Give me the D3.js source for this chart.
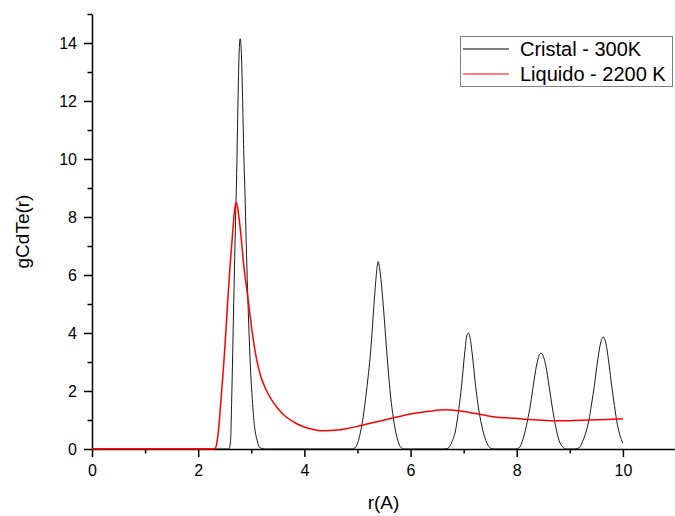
<!DOCTYPE html>
<html>
<head>
<meta charset="utf-8">
<script src="https://cdn.jsdelivr.net/npm/d3@7"></script>
<style>
  body { margin: 0; background: #fff; }
  svg { display: block; font-family: "Liberation Sans", Arial, sans-serif; }
</style>
</head>
<body>
<div id="chart"></div>
<script>
// crystal (300K) g(r)
var crystalR = [0, 2.58, 2.61, 2.63, 2.65, 2.675, 2.70, 2.725, 2.75, 2.77, 2.79,
  2.81, 2.84, 2.86, 2.88, 2.905, 2.93, 2.96, 2.99, 3.02, 3.06, 3.11, 3.16, 3.25,
  4.90, 4.96, 5.02, 5.09, 5.17, 5.25, 5.32, 5.36, 5.39, 5.42, 5.475, 5.55, 5.62, 5.69, 5.76, 5.82, 5.88,
  6.60, 6.70, 6.78, 6.85, 6.91, 6.96, 7.02, 7.06, 7.09, 7.12, 7.16, 7.226, 7.29, 7.36, 7.44, 7.52, 7.58,
  7.98, 8.05, 8.12, 8.205, 8.26, 8.31, 8.37, 8.42, 8.46, 8.50, 8.55, 8.61, 8.66, 8.71, 8.78, 8.86, 8.94,
  9.10, 9.18, 9.26, 9.36, 9.41, 9.46, 9.52, 9.58, 9.63, 9.68, 9.74, 9.79, 9.84, 9.88, 9.94, 10.0];
var crystalG = [0, 0, 0.3, 1.6, 3.3, 5.5, 7.6, 9.5, 12.0, 13.6, 14.15,
  13.8, 11.8, 10.1, 8.9, 7.1, 5.5, 3.9, 2.6, 1.7, 0.8, 0.3, 0.05, 0,
  0, 0.05, 0.3, 0.9, 2.0, 3.4, 5.2, 6.1, 6.46, 6.2, 5.2, 3.4, 1.9, 0.9, 0.3, 0.05, 0,
  0, 0.02, 0.25, 0.66, 1.4, 2.16, 3.31, 3.9, 4.0, 3.85, 3.31, 2.16, 1.3, 0.66, 0.2, 0.02, 0,
  0, 0.05, 0.35, 1.0, 1.55, 2.16, 2.85, 3.22, 3.31, 3.2, 2.85, 2.16, 1.55, 1.0, 0.4, 0.08, 0,
  0, 0.05, 0.35, 1.0, 1.55, 2.16, 3.0, 3.65, 3.86, 3.65, 2.9, 2.16, 1.5, 1.0, 0.5, 0.2];

// liquid (2200 K) g(r)
var liquidR = [0, 2.30, 2.335, 2.38, 2.43, 2.48, 2.52, 2.56, 2.60, 2.65, 2.69, 2.72,
  2.76, 2.80, 2.86, 2.94, 3.02, 3.10, 3.18, 3.27, 3.38, 3.50, 3.60, 3.69, 3.85, 4.01, 4.15,
  4.33, 4.67, 4.76, 5.0, 5.2, 5.39, 5.64, 5.85, 6.08, 6.35, 6.65, 6.9, 7.09, 7.35,
  7.59, 7.97, 8.15, 8.5, 8.78, 9.05, 9.35, 9.7, 10.0];
var liquidG = [0, 0, 0.08, 0.6, 1.7, 2.9, 4.0, 5.2, 6.31, 7.47, 8.3, 8.5,
  8.1, 7.47, 6.31, 5.16, 4.0, 3.1, 2.5, 2.08, 1.70, 1.40, 1.2, 1.06, 0.88, 0.75, 0.68,
  0.63, 0.66, 0.69, 0.78, 0.87, 0.95, 1.06, 1.15, 1.23, 1.30, 1.35, 1.32, 1.27, 1.18,
  1.10, 1.06, 1.03, 0.99, 0.97, 0.98, 1.0, 1.02, 1.04];

var xTicks = [0, 2, 4, 6, 8, 10];
var xMinor = [1, 3, 5, 7, 9, 11];
var yTicks = [0, 2, 4, 6, 8, 10, 12, 14];
var yMinor = [1, 3, 5, 7, 9, 11, 13, 15];

var seriesNames = ["Cristal - 300K", "Liquido - 2200 K"];
var seriesColors = ["#000000", "#ff0000"];

var width = 675, height = 516;

var svg = d3.select("#chart").append("svg")
  .attr("width", width)
  .attr("height", height);

var x = d3.scaleLinear().domain([0, 11]).range([92, 676]);
var y = d3.scaleLinear().domain([0, 15]).range([449, 14]);

// minor ticks first, then major axis with labels
svg.append("g")
  .attr("transform", "translate(0,449)")
  .call(d3.axisBottom(x).tickValues(xMinor).tickSize(4.5).tickFormat(""))
  .call(g => g.select(".domain").remove());
svg.append("g")
  .attr("transform", "translate(92,0)")
  .call(d3.axisLeft(y).tickValues(yMinor).tickSize(4.5).tickFormat(""))
  .call(g => g.select(".domain").remove());

var xAxis = svg.append("g")
  .attr("transform", "translate(0,449)")
  .call(d3.axisBottom(x).tickValues(xTicks).tickSizeInner(8).tickSizeOuter(0).tickPadding(8).tickFormat(d3.format("d")));
var yAxis = svg.append("g")
  .attr("transform", "translate(92,0)")
  .call(d3.axisLeft(y).tickValues(yTicks).tickSizeInner(8).tickSizeOuter(0).tickPadding(7).tickFormat(d3.format("d")));

svg.selectAll(".tick line, .domain").attr("stroke", "#000").attr("stroke-width", 1.5);
svg.selectAll(".tick text").attr("font-size", 16).attr("fill", "#000")
  .attr("font-family", "'Liberation Sans', Arial, sans-serif");

// curves
var crystal = crystalR.map((r, i) => [r, crystalG[i]]);
var liquid = liquidR.map((r, i) => [r, liquidG[i]]);

var line = d3.line()
  .x(d => x(d[0]))
  .y(d => y(d[1]))
  .curve(d3.curveMonotoneX);

svg.append("path")
  .datum(crystal)
  .attr("fill", "none")
  .attr("stroke", seriesColors[0])
  .attr("stroke-width", 0.9)
  .attr("d", line);

svg.append("path")
  .datum(liquid)
  .attr("fill", "none")
  .attr("stroke", seriesColors[1])
  .attr("stroke-width", 1.5)
  .attr("d", line);

// axis titles
svg.append("text")
  .attr("x", 383.5)
  .attr("y", 509)
  .attr("text-anchor", "middle")
  .attr("font-size", 19)
  .text("r(A)");

svg.append("text")
  .attr("transform", "translate(29,231.5) rotate(-90)")
  .attr("text-anchor", "middle")
  .attr("font-size", 19)
  .text("gCdTe(r)");

// legend
var legend = svg.append("g");
legend.append("rect")
  .attr("x", 460.5).attr("y", 36.5)
  .attr("width", 212).attr("height", 50)
  .attr("fill", "#fff")
  .attr("stroke", "#808080")
  .attr("stroke-width", 1);

seriesNames.forEach(function(name, i) {
  var ly = 49 + i * 25;
  legend.append("line")
    .attr("x1", 463).attr("x2", 509)
    .attr("y1", ly).attr("y2", ly)
    .attr("stroke", seriesColors[i])
    .attr("stroke-width", 1);
  legend.append("text")
    .attr("x", 520)
    .attr("y", 56 + i * 24.5)
    .attr("font-size", 20)
    .text(name);
});
</script>
</body>
</html>
